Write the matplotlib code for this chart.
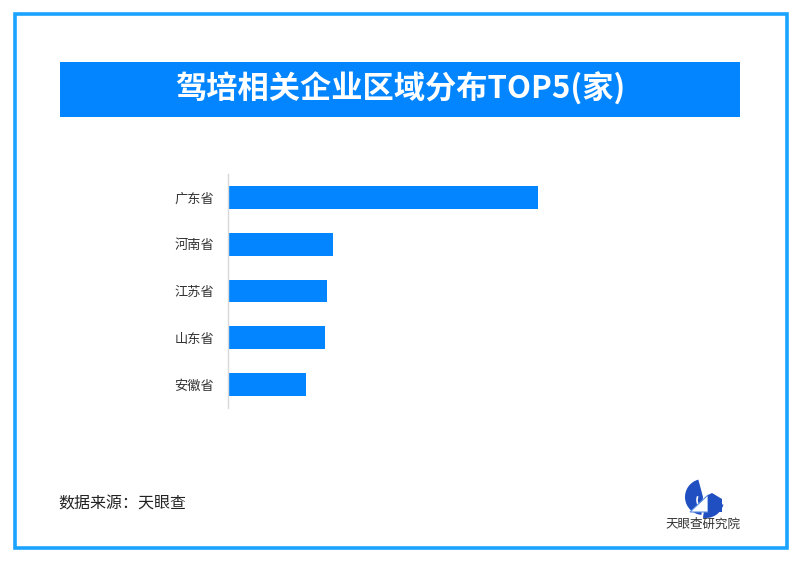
import matplotlib
matplotlib.use("Agg")
import matplotlib.pyplot as plt
from matplotlib.patches import Rectangle, Wedge, Polygon, Arc

plt.rcParams['font.family'] = ['Noto Sans CJK SC', 'DejaVu Sans']

# data (no value labels in the source)
provinces = ["广东省", "河南省", "江苏省", "山东省", "安徽省"]
counts = [310, 105, 99, 97, 78]

title = "驾培相关企业区域分布TOP5(家)"
source = "数据来源：天眼查"
brand = "天眼查研究院"

BAR_BLUE = "#0385ff"
FRAME_BLUE = "#1aa3ff"
LOGO_BLUE = "#1f4fc1"

fig = plt.figure(figsize=(8, 5.61), dpi=100)

# background layer in pixel coords for frame, title box, footer
bg = fig.add_axes([0, 0, 1, 1])
bg.set_xlim(0, 800)
bg.set_ylim(561, 0)
bg.axis("off")

bg.add_patch(Rectangle((15, 14), 772, 534, fill=False,
                       edgecolor=FRAME_BLUE, linewidth=2.6))
bg.add_patch(Rectangle((60, 62), 680, 55, facecolor="#0285ff",
                       edgecolor="none"))
bg.text(400, 89.5, title, color="white", fontsize=22.5, fontweight="bold",
        ha="center", va="center")

bg.text(58, 504, source, color="#222222", fontsize=11.5,
        ha="left", va="center")

# rough version of the logo
bg.add_patch(Wedge((703, 497), 18, 95, 255, facecolor=LOGO_BLUE,
                   edgecolor="none"))
bg.add_patch(Wedge((706, 500), 18, 15, 100, width=7, facecolor=LOGO_BLUE,
                   edgecolor="none"))
bg.add_patch(Arc((708, 500), 22, 20, theta1=110, theta2=200,
                 color="white", linewidth=1.2))
bg.add_patch(Polygon([(690, 512), (708, 495), (708, 512)], closed=True,
                     facecolor="white", edgecolor="#5b8fe0", linewidth=0.8))
bg.add_patch(Polygon([(708, 495), (712, 493), (722, 499), (722, 512),
                      (708, 512)], closed=True, facecolor=LOGO_BLUE,
                     edgecolor="none"))
bg.text(703, 524, brand, color="#333333", fontsize=9,
        ha="center", va="center")

# bar chart
ax = fig.add_axes([228 / 800, 1 - 408 / 561, 400 / 800, 234 / 561])
ypos = range(len(provinces))
ax.barh(ypos, counts, height=0.49, color=BAR_BLUE)
ax.set_xlim(0, 400)
ax.set_ylim(len(provinces) - 0.5, -0.5)
ax.set_yticks(list(ypos))
ax.set_yticklabels(provinces, fontsize=9.5, color="#333333")
ax.set_xticks([])
ax.tick_params(axis="y", length=0, pad=10)
for side in ["top", "right", "bottom"]:
    ax.spines[side].set_visible(False)
ax.spines["left"].set_color("#d9d9d9")
ax.spines["left"].set_linewidth(1)
ax.patch.set_alpha(0)

fig.savefig("out.png", dpi=100)
